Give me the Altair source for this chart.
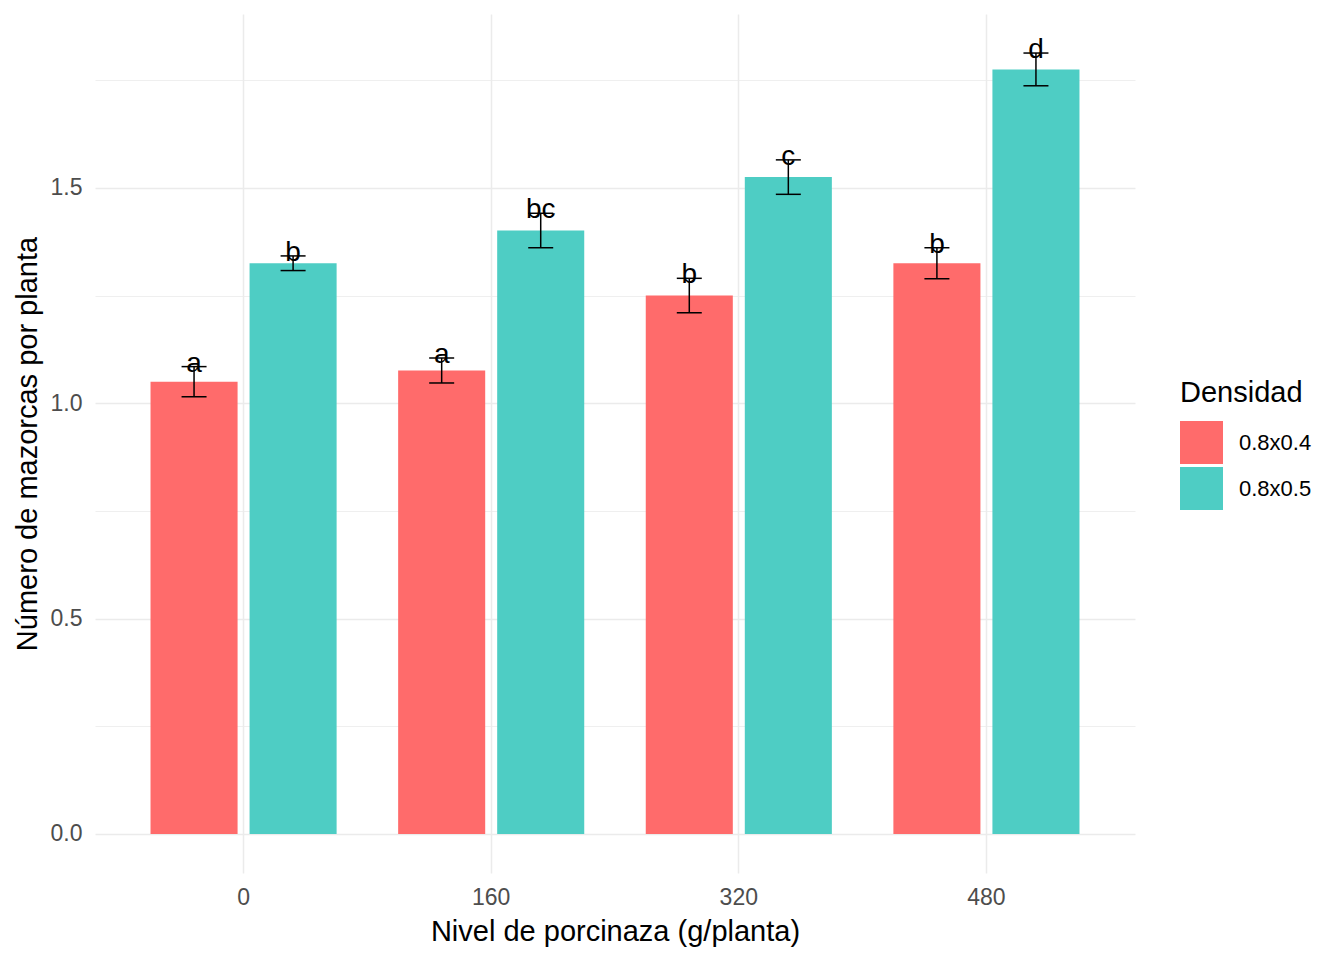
import altair as alt
import pandas as pd

niveles = ["0", "160", "320", "480"]
densidades = ["0.8x0.4", "0.8x0.5"]
media_04 = [1.050, 1.076, 1.250, 1.325]
media_05 = [1.325, 1.401, 1.525, 1.775]
ee_04 = [0.035, 0.029, 0.040, 0.036]
ee_05 = [0.017, 0.040, 0.040, 0.038]
letras_04 = ["a", "a", "b", "b"]
letras_05 = ["b", "bc", "c", "d"]
colores = ["#FF6B6B", "#4ECDC4"]

rows = []
for dens, medias, ees, letras in [
    (densidades[0], media_04, ee_04, letras_04),
    (densidades[1], media_05, ee_05, letras_05),
]:
    for n, m, e, l in zip(niveles, medias, ees, letras):
        rows.append({"nivel": n, "densidad": dens, "media": m,
                     "inf": m - e, "sup": m + e, "letra": l})
df = pd.DataFrame(rows)

FONT = "Liberation Sans"
ymax = max(df["sup"])
yrng = ymax
ydomain = [-0.05 * yrng, ymax + 0.05 * yrng]

xscale = alt.Scale(domain=niveles, paddingInner=0.2, paddingOuter=0.2)
xoff = alt.Scale(domain=densidades, paddingInner=0.121, paddingOuter=0.0606)
yscale = alt.Scale(domain=ydomain, nice=False, zero=False)

xaxis = alt.Axis(title="Nivel de porcinaza (g/planta)", grid=True, gridColor="#ebebeb",
                 gridWidth=1.5, bandPosition=0.5, ticks=False, domain=False,
                 labelAngle=0, labelFontSize=23, labelColor="#4d4d4d", labelFont=FONT,
                 labelPadding=13, titleFont=FONT, titleFontSize=29,
                 titleFontWeight="normal", titleColor="black", titlePadding=8)
yaxis = alt.Axis(title="Número de mazorcas por planta",
                 values=[0, 0.25, 0.5, 0.75, 1.0, 1.25, 1.5, 1.75],
                 labelExpr="datum.value % 0.5 === 0 ? format(datum.value, '.1f') : ''",
                 grid=True, gridColor="#ebebeb",
                 gridWidth={"condition": {"test": "datum.value % 0.5 !== 0", "value": 0.8},
                            "value": 1.5},
                 ticks=False, domain=False, labelFontSize=23, labelColor="#4d4d4d",
                 labelFont=FONT, labelPadding=13, titleFont=FONT, titleFontSize=29,
                 titleFontWeight="normal", titleColor="black", titlePadding=8)

base = alt.Chart(df).encode(
    x=alt.X("nivel:N", sort=niveles, scale=xscale, axis=xaxis),
    xOffset=alt.XOffset("densidad:N", sort=densidades, scale=xoff),
)

bars = base.mark_bar().encode(
    y=alt.Y("media:Q", scale=yscale, axis=yaxis),
    y2=alt.datum(0),
    color=alt.Color("densidad:N", sort=densidades,
                    scale=alt.Scale(domain=densidades, range=colores),
                    legend=alt.Legend(title="Densidad", orient="none", legendX=1085,
                                      legendY=365, symbolType="square", symbolSize=1849,
                                      symbolStrokeWidth=0, symbolOpacity=1,
                                      labelFontSize=22, labelFont=FONT, labelColor="black",
                                      labelOffset=16, titleFontSize=29, titleFont=FONT,
                                      titleFontWeight="normal", titleColor="black",
                                      titlePadding=13, rowPadding=3)),
)

rule = base.mark_rule(color="black", strokeWidth=1.5).encode(
    y=alt.Y("inf:Q", scale=yscale), y2="sup:Q")
cap_top = base.mark_tick(color="black", size=25, thickness=1.5, opacity=1).encode(
    y=alt.Y("sup:Q", scale=yscale))
cap_bot = base.mark_tick(color="black", size=25, thickness=1.5, opacity=1).encode(
    y=alt.Y("inf:Q", scale=yscale))
text = base.mark_text(fontSize=28, font=FONT, color="black", baseline="middle", dy=-3).encode(
    y=alt.Y("sup:Q", scale=yscale), text="letra:N")

chart = alt.layer(bars, rule, cap_top, cap_bot, text).properties(
    width=1040, height=859,
    autosize=alt.AutoSizeParams(type="none"),
    padding={"left": 87, "top": 6, "right": 201, "bottom": 79},
).configure_view(stroke=None)

chart.save("out.html", embed_options={"renderer": "svg", "actions": False})
